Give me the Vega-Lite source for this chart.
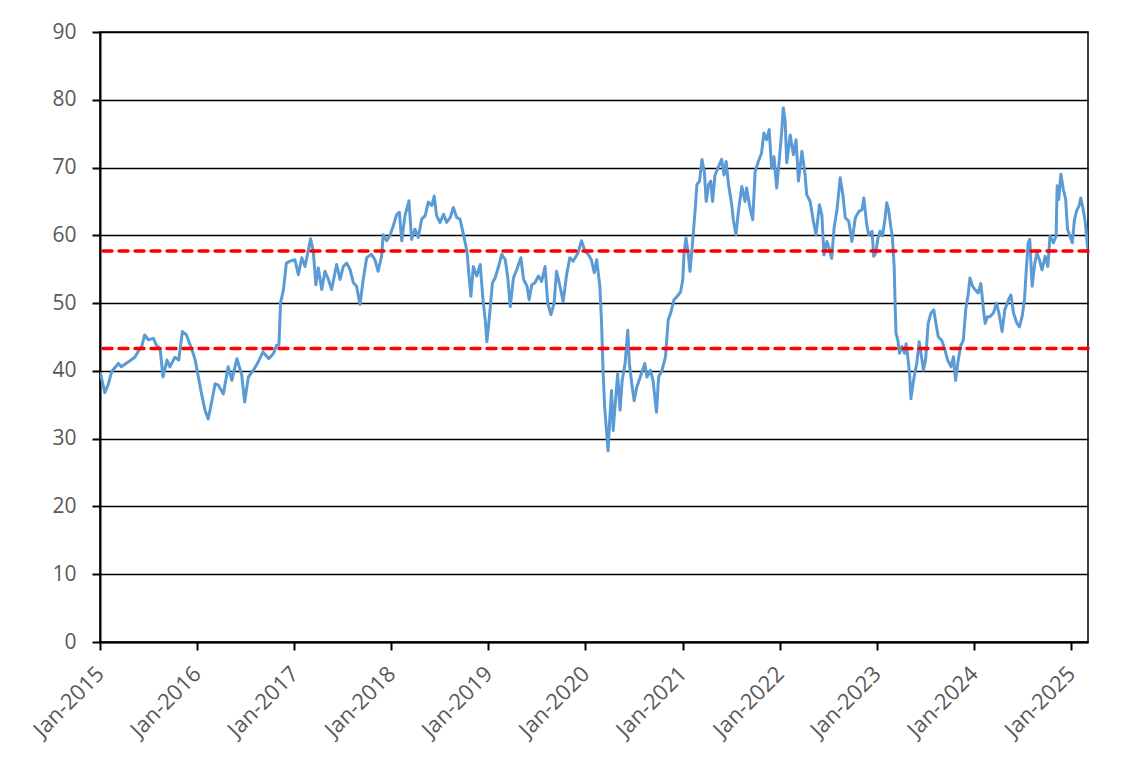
{
  "$schema": "https://vega.github.io/schema/vega-lite/v6.json",
  "width": 988,
  "height": 610,
  "autosize": {"type": "none"},
  "padding": {"left": 100, "top": 32, "right": 56, "bottom": 127},
  "background": "white",
  "config": {
    "view": {"stroke": "black", "strokeWidth": 1.5},
    "font": "Open Sans"
  },
  "datasets": {
    "series": [
      {"date": "2015-01-02", "v": 39.8},
      {"date": "2015-01-19", "v": 36.8},
      {"date": "2015-02-01", "v": 38.0},
      {"date": "2015-02-14", "v": 39.9},
      {"date": "2015-03-11", "v": 41.1},
      {"date": "2015-03-22", "v": 40.6},
      {"date": "2015-04-17", "v": 41.3},
      {"date": "2015-05-12", "v": 42.0},
      {"date": "2015-05-27", "v": 43.0},
      {"date": "2015-06-07", "v": 43.6},
      {"date": "2015-06-18", "v": 45.3},
      {"date": "2015-07-02", "v": 44.6},
      {"date": "2015-07-21", "v": 44.8},
      {"date": "2015-08-01", "v": 43.8},
      {"date": "2015-08-15", "v": 43.3},
      {"date": "2015-08-26", "v": 39.1},
      {"date": "2015-09-10", "v": 41.6},
      {"date": "2015-09-21", "v": 40.6},
      {"date": "2015-10-09", "v": 42.0},
      {"date": "2015-10-24", "v": 41.6},
      {"date": "2015-11-07", "v": 45.8},
      {"date": "2015-11-22", "v": 45.3},
      {"date": "2015-12-14", "v": 43.0},
      {"date": "2015-12-25", "v": 41.6},
      {"date": "2016-01-06", "v": 39.1},
      {"date": "2016-01-18", "v": 36.6},
      {"date": "2016-01-31", "v": 34.2},
      {"date": "2016-02-12", "v": 32.9},
      {"date": "2016-02-25", "v": 35.4},
      {"date": "2016-03-09", "v": 38.1},
      {"date": "2016-03-21", "v": 37.9},
      {"date": "2016-04-09", "v": 36.6},
      {"date": "2016-04-27", "v": 40.6},
      {"date": "2016-05-11", "v": 38.6},
      {"date": "2016-05-30", "v": 41.8},
      {"date": "2016-06-17", "v": 39.4},
      {"date": "2016-06-28", "v": 35.4},
      {"date": "2016-07-12", "v": 39.1},
      {"date": "2016-07-31", "v": 40.1},
      {"date": "2016-08-18", "v": 41.3},
      {"date": "2016-09-05", "v": 42.8},
      {"date": "2016-09-27", "v": 41.8},
      {"date": "2016-10-15", "v": 42.6},
      {"date": "2016-10-26", "v": 43.8},
      {"date": "2016-11-04", "v": 43.8},
      {"date": "2016-11-10", "v": 50.0},
      {"date": "2016-11-21", "v": 52.0},
      {"date": "2016-12-02", "v": 55.9},
      {"date": "2016-12-16", "v": 56.2},
      {"date": "2017-01-03", "v": 56.4},
      {"date": "2017-01-16", "v": 54.2},
      {"date": "2017-01-29", "v": 56.7},
      {"date": "2017-02-10", "v": 55.4},
      {"date": "2017-02-22", "v": 57.7},
      {"date": "2017-03-03", "v": 59.5},
      {"date": "2017-03-13", "v": 57.7},
      {"date": "2017-03-23", "v": 52.7},
      {"date": "2017-04-01", "v": 55.2},
      {"date": "2017-04-14", "v": 52.0},
      {"date": "2017-04-26", "v": 54.7},
      {"date": "2017-05-09", "v": 53.5},
      {"date": "2017-05-21", "v": 52.0},
      {"date": "2017-06-09", "v": 55.7},
      {"date": "2017-06-22", "v": 53.5},
      {"date": "2017-07-04", "v": 55.4},
      {"date": "2017-07-17", "v": 55.9},
      {"date": "2017-07-29", "v": 55.0},
      {"date": "2017-08-11", "v": 53.0},
      {"date": "2017-08-23", "v": 52.5},
      {"date": "2017-09-05", "v": 49.8},
      {"date": "2017-09-17", "v": 53.5},
      {"date": "2017-09-30", "v": 56.7},
      {"date": "2017-10-18", "v": 57.2},
      {"date": "2017-10-31", "v": 56.4},
      {"date": "2017-11-12", "v": 54.7},
      {"date": "2017-11-25", "v": 56.9},
      {"date": "2017-12-01", "v": 60.1},
      {"date": "2017-12-14", "v": 59.2},
      {"date": "2017-12-26", "v": 59.9},
      {"date": "2018-01-08", "v": 61.4},
      {"date": "2018-01-21", "v": 63.1},
      {"date": "2018-01-31", "v": 63.4},
      {"date": "2018-02-09", "v": 59.2},
      {"date": "2018-02-21", "v": 62.9},
      {"date": "2018-03-08", "v": 65.1},
      {"date": "2018-03-18", "v": 59.4},
      {"date": "2018-03-31", "v": 60.9},
      {"date": "2018-04-12", "v": 59.7},
      {"date": "2018-04-25", "v": 62.4},
      {"date": "2018-05-08", "v": 62.9},
      {"date": "2018-05-20", "v": 64.9},
      {"date": "2018-06-02", "v": 64.4},
      {"date": "2018-06-11", "v": 65.8},
      {"date": "2018-06-20", "v": 62.9},
      {"date": "2018-07-03", "v": 61.9},
      {"date": "2018-07-16", "v": 63.1},
      {"date": "2018-07-28", "v": 61.9},
      {"date": "2018-08-10", "v": 62.6},
      {"date": "2018-08-22", "v": 64.1},
      {"date": "2018-09-04", "v": 62.6},
      {"date": "2018-09-16", "v": 62.4},
      {"date": "2018-09-29", "v": 60.1},
      {"date": "2018-10-12", "v": 57.7},
      {"date": "2018-10-20", "v": 54.0},
      {"date": "2018-10-27", "v": 51.0},
      {"date": "2018-11-05", "v": 55.4},
      {"date": "2018-11-18", "v": 54.0},
      {"date": "2018-12-01", "v": 55.7},
      {"date": "2018-12-11", "v": 50.7},
      {"date": "2018-12-20", "v": 47.5},
      {"date": "2018-12-26", "v": 44.3},
      {"date": "2019-01-01", "v": 46.5},
      {"date": "2019-01-07", "v": 49.0},
      {"date": "2019-01-16", "v": 53.0},
      {"date": "2019-01-26", "v": 53.7},
      {"date": "2019-02-08", "v": 55.4},
      {"date": "2019-02-20", "v": 57.2},
      {"date": "2019-03-05", "v": 56.4},
      {"date": "2019-03-15", "v": 53.7},
      {"date": "2019-03-24", "v": 49.5},
      {"date": "2019-04-05", "v": 53.7},
      {"date": "2019-04-18", "v": 55.0},
      {"date": "2019-05-03", "v": 56.7},
      {"date": "2019-05-13", "v": 53.5},
      {"date": "2019-05-26", "v": 52.5},
      {"date": "2019-06-03", "v": 50.5},
      {"date": "2019-06-13", "v": 52.7},
      {"date": "2019-06-25", "v": 53.0},
      {"date": "2019-07-08", "v": 54.0},
      {"date": "2019-07-20", "v": 53.2},
      {"date": "2019-08-02", "v": 55.4},
      {"date": "2019-08-12", "v": 50.0},
      {"date": "2019-08-24", "v": 48.3},
      {"date": "2019-09-05", "v": 50.0},
      {"date": "2019-09-14", "v": 54.7},
      {"date": "2019-09-27", "v": 52.5},
      {"date": "2019-10-09", "v": 50.2},
      {"date": "2019-10-22", "v": 54.2},
      {"date": "2019-11-03", "v": 56.7},
      {"date": "2019-11-16", "v": 56.2},
      {"date": "2019-12-04", "v": 57.4},
      {"date": "2019-12-17", "v": 59.2},
      {"date": "2019-12-30", "v": 57.7},
      {"date": "2020-01-11", "v": 57.2},
      {"date": "2020-01-23", "v": 56.4},
      {"date": "2020-02-03", "v": 54.5},
      {"date": "2020-02-12", "v": 56.4},
      {"date": "2020-02-24", "v": 52.5},
      {"date": "2020-03-01", "v": 47.5},
      {"date": "2020-03-07", "v": 40.1},
      {"date": "2020-03-13", "v": 34.7},
      {"date": "2020-03-19", "v": 31.7},
      {"date": "2020-03-26", "v": 28.2},
      {"date": "2020-04-01", "v": 32.7},
      {"date": "2020-04-08", "v": 37.1},
      {"date": "2020-04-14", "v": 31.2},
      {"date": "2020-04-21", "v": 34.7},
      {"date": "2020-05-01", "v": 39.6},
      {"date": "2020-05-10", "v": 34.2},
      {"date": "2020-05-18", "v": 38.6},
      {"date": "2020-05-29", "v": 41.1},
      {"date": "2020-06-08", "v": 46.0},
      {"date": "2020-06-14", "v": 41.1},
      {"date": "2020-06-23", "v": 38.1},
      {"date": "2020-07-02", "v": 35.6},
      {"date": "2020-07-12", "v": 37.6},
      {"date": "2020-07-25", "v": 39.1},
      {"date": "2020-08-11", "v": 41.1},
      {"date": "2020-08-19", "v": 39.1},
      {"date": "2020-09-01", "v": 40.1},
      {"date": "2020-09-11", "v": 38.6},
      {"date": "2020-09-24", "v": 33.9},
      {"date": "2020-10-02", "v": 39.1},
      {"date": "2020-10-15", "v": 40.1},
      {"date": "2020-10-28", "v": 42.1},
      {"date": "2020-11-07", "v": 47.5},
      {"date": "2020-11-16", "v": 48.5},
      {"date": "2020-11-29", "v": 50.5},
      {"date": "2020-12-11", "v": 51.0},
      {"date": "2020-12-24", "v": 51.7},
      {"date": "2021-01-01", "v": 53.5},
      {"date": "2021-01-06", "v": 57.6},
      {"date": "2021-01-13", "v": 59.6},
      {"date": "2021-01-22", "v": 57.1},
      {"date": "2021-01-28", "v": 54.7},
      {"date": "2021-02-05", "v": 58.1},
      {"date": "2021-02-11", "v": 61.1},
      {"date": "2021-02-17", "v": 64.0},
      {"date": "2021-02-23", "v": 67.5},
      {"date": "2021-03-05", "v": 68.0},
      {"date": "2021-03-14", "v": 71.2},
      {"date": "2021-03-23", "v": 69.4},
      {"date": "2021-03-30", "v": 65.0},
      {"date": "2021-04-08", "v": 67.5},
      {"date": "2021-04-16", "v": 68.0},
      {"date": "2021-04-23", "v": 65.0},
      {"date": "2021-05-02", "v": 68.9},
      {"date": "2021-05-15", "v": 70.1},
      {"date": "2021-05-27", "v": 71.2},
      {"date": "2021-06-05", "v": 68.9},
      {"date": "2021-06-13", "v": 70.9},
      {"date": "2021-06-22", "v": 67.5},
      {"date": "2021-07-04", "v": 64.5},
      {"date": "2021-07-10", "v": 62.3},
      {"date": "2021-07-20", "v": 60.1},
      {"date": "2021-07-29", "v": 63.5},
      {"date": "2021-08-11", "v": 67.2},
      {"date": "2021-08-23", "v": 65.0},
      {"date": "2021-08-29", "v": 67.0},
      {"date": "2021-09-11", "v": 64.0},
      {"date": "2021-09-21", "v": 62.3},
      {"date": "2021-09-30", "v": 69.4},
      {"date": "2021-10-12", "v": 70.9},
      {"date": "2021-10-24", "v": 72.1},
      {"date": "2021-11-02", "v": 75.1},
      {"date": "2021-11-12", "v": 74.1},
      {"date": "2021-11-22", "v": 75.6},
      {"date": "2021-12-01", "v": 69.9},
      {"date": "2021-12-10", "v": 71.6},
      {"date": "2021-12-20", "v": 67.0},
      {"date": "2021-12-30", "v": 71.2},
      {"date": "2022-01-08", "v": 75.3},
      {"date": "2022-01-14", "v": 78.8},
      {"date": "2022-01-21", "v": 76.8},
      {"date": "2022-01-27", "v": 70.7},
      {"date": "2022-02-09", "v": 74.8},
      {"date": "2022-02-21", "v": 71.9},
      {"date": "2022-03-03", "v": 74.1},
      {"date": "2022-03-12", "v": 68.0},
      {"date": "2022-03-25", "v": 72.4},
      {"date": "2022-04-06", "v": 68.9},
      {"date": "2022-04-12", "v": 66.0},
      {"date": "2022-04-25", "v": 65.0},
      {"date": "2022-05-07", "v": 62.1},
      {"date": "2022-05-17", "v": 60.1},
      {"date": "2022-05-30", "v": 64.5},
      {"date": "2022-06-08", "v": 63.0},
      {"date": "2022-06-16", "v": 57.1},
      {"date": "2022-06-27", "v": 59.1},
      {"date": "2022-07-05", "v": 58.1},
      {"date": "2022-07-15", "v": 56.6},
      {"date": "2022-07-24", "v": 61.1},
      {"date": "2022-08-04", "v": 63.8},
      {"date": "2022-08-16", "v": 68.5},
      {"date": "2022-08-26", "v": 66.0},
      {"date": "2022-09-04", "v": 62.6},
      {"date": "2022-09-17", "v": 62.1},
      {"date": "2022-09-29", "v": 59.1},
      {"date": "2022-10-12", "v": 62.6},
      {"date": "2022-10-25", "v": 63.5},
      {"date": "2022-11-06", "v": 63.8},
      {"date": "2022-11-13", "v": 65.5},
      {"date": "2022-11-23", "v": 61.8},
      {"date": "2022-12-01", "v": 60.1},
      {"date": "2022-12-14", "v": 60.6},
      {"date": "2022-12-20", "v": 56.9},
      {"date": "2022-12-28", "v": 57.4},
      {"date": "2023-01-04", "v": 59.4},
      {"date": "2023-01-13", "v": 60.6},
      {"date": "2023-01-22", "v": 59.9},
      {"date": "2023-02-01", "v": 62.6},
      {"date": "2023-02-07", "v": 64.8},
      {"date": "2023-02-14", "v": 63.8},
      {"date": "2023-02-22", "v": 61.3},
      {"date": "2023-02-28", "v": 59.9},
      {"date": "2023-03-07", "v": 55.4},
      {"date": "2023-03-11", "v": 49.0},
      {"date": "2023-03-14", "v": 45.5},
      {"date": "2023-03-21", "v": 44.5},
      {"date": "2023-03-27", "v": 42.6},
      {"date": "2023-04-05", "v": 43.6},
      {"date": "2023-04-15", "v": 42.6},
      {"date": "2023-04-21", "v": 44.0},
      {"date": "2023-04-27", "v": 42.1},
      {"date": "2023-05-04", "v": 39.6},
      {"date": "2023-05-09", "v": 35.9},
      {"date": "2023-05-15", "v": 37.6},
      {"date": "2023-05-23", "v": 39.6},
      {"date": "2023-05-31", "v": 41.1},
      {"date": "2023-06-09", "v": 44.3},
      {"date": "2023-06-16", "v": 42.6},
      {"date": "2023-06-25", "v": 40.1},
      {"date": "2023-07-03", "v": 41.6},
      {"date": "2023-07-13", "v": 47.0},
      {"date": "2023-07-23", "v": 48.5},
      {"date": "2023-08-03", "v": 49.0},
      {"date": "2023-08-11", "v": 47.0},
      {"date": "2023-08-20", "v": 45.0},
      {"date": "2023-09-02", "v": 44.5},
      {"date": "2023-09-14", "v": 43.1},
      {"date": "2023-09-24", "v": 41.6},
      {"date": "2023-10-07", "v": 40.6},
      {"date": "2023-10-16", "v": 42.1},
      {"date": "2023-10-24", "v": 38.6},
      {"date": "2023-11-03", "v": 41.6},
      {"date": "2023-11-13", "v": 43.8},
      {"date": "2023-11-22", "v": 44.5},
      {"date": "2023-12-01", "v": 49.0},
      {"date": "2023-12-11", "v": 51.5},
      {"date": "2023-12-17", "v": 53.7},
      {"date": "2023-12-27", "v": 52.5},
      {"date": "2024-01-05", "v": 52.0},
      {"date": "2024-01-17", "v": 51.5},
      {"date": "2024-01-27", "v": 52.9},
      {"date": "2024-02-06", "v": 49.0},
      {"date": "2024-02-12", "v": 47.0},
      {"date": "2024-02-21", "v": 48.0},
      {"date": "2024-03-01", "v": 48.0},
      {"date": "2024-03-14", "v": 48.5},
      {"date": "2024-03-26", "v": 50.0},
      {"date": "2024-04-04", "v": 48.5},
      {"date": "2024-04-16", "v": 45.8},
      {"date": "2024-04-26", "v": 49.0},
      {"date": "2024-05-10", "v": 50.5},
      {"date": "2024-05-19", "v": 51.2},
      {"date": "2024-05-29", "v": 48.5},
      {"date": "2024-06-11", "v": 47.0},
      {"date": "2024-06-20", "v": 46.5},
      {"date": "2024-06-30", "v": 48.0},
      {"date": "2024-07-09", "v": 50.5},
      {"date": "2024-07-15", "v": 54.4},
      {"date": "2024-07-23", "v": 58.9},
      {"date": "2024-07-29", "v": 59.4},
      {"date": "2024-08-07", "v": 52.5},
      {"date": "2024-08-17", "v": 55.9},
      {"date": "2024-08-25", "v": 57.4},
      {"date": "2024-09-03", "v": 56.4},
      {"date": "2024-09-13", "v": 54.9},
      {"date": "2024-09-25", "v": 56.9},
      {"date": "2024-10-05", "v": 55.4},
      {"date": "2024-10-13", "v": 59.9},
      {"date": "2024-10-26", "v": 58.9},
      {"date": "2024-11-05", "v": 59.9},
      {"date": "2024-11-09", "v": 67.3},
      {"date": "2024-11-15", "v": 65.3},
      {"date": "2024-11-23", "v": 69.0},
      {"date": "2024-12-02", "v": 66.8},
      {"date": "2024-12-11", "v": 65.3},
      {"date": "2024-12-18", "v": 60.9},
      {"date": "2024-12-27", "v": 59.9},
      {"date": "2025-01-05", "v": 58.9},
      {"date": "2025-01-13", "v": 62.3},
      {"date": "2025-01-21", "v": 63.6},
      {"date": "2025-01-30", "v": 64.3},
      {"date": "2025-02-06", "v": 65.5},
      {"date": "2025-02-15", "v": 63.8},
      {"date": "2025-02-23", "v": 61.8},
      {"date": "2025-03-04", "v": 57.9}
    ],
    "levels": [
      {"level": 57.7},
      {"level": 43.3}
    ]
  },
  "layer": [
    {
      "data": {"name": "series"},
      "mark": {"type": "line", "color": "#5B9BD5", "strokeWidth": 3, "strokeJoin": "round", "clip": true},
      "encoding": {
        "x": {
          "field": "date",
          "type": "temporal",
          "scale": {"type": "utc", "domain": [{"year": 2015, "month": 1, "date": 1, "utc": true}, {"year": 2025, "month": 3, "date": 5, "utc": true}]},
          "axis": {
            "title": null,
            "values": [
              {"year": 2015, "month": 1, "date": 1, "utc": true},
              {"year": 2016, "month": 1, "date": 1, "utc": true},
              {"year": 2017, "month": 1, "date": 1, "utc": true},
              {"year": 2018, "month": 1, "date": 1, "utc": true},
              {"year": 2019, "month": 1, "date": 1, "utc": true},
              {"year": 2020, "month": 1, "date": 1, "utc": true},
              {"year": 2021, "month": 1, "date": 1, "utc": true},
              {"year": 2022, "month": 1, "date": 1, "utc": true},
              {"year": 2023, "month": 1, "date": 1, "utc": true},
              {"year": 2024, "month": 1, "date": 1, "utc": true},
              {"year": 2025, "month": 1, "date": 1, "utc": true}
            ],
            "labelExpr": "utcFormat(datum.value, '%b-%Y')",
            "grid": false,
            "domainColor": "black",
            "domainWidth": 2,
            "tickColor": "black",
            "tickWidth": 2,
            "tickSize": 8,
            "labelAngle": -45,
            "labelAlign": "right",
            "labelBaseline": "middle",
            "labelPadding": 20,
            "labelFont": "Open Sans",
            "labelFontSize": 22,
            "labelColor": "#595959",
            "labelOverlap": false,
            "labelFlush": false
          }
        },
        "y": {
          "field": "v",
          "type": "quantitative",
          "scale": {"domain": [0, 90], "nice": false, "zero": true},
          "axis": {
            "title": null,
            "values": [0, 10, 20, 30, 40, 50, 60, 70, 80, 90],
            "grid": true,
            "gridColor": "black",
            "gridWidth": 1.5,
            "gridOpacity": 1,
            "domainColor": "black",
            "domainWidth": 2,
            "tickColor": "black",
            "tickWidth": 2,
            "tickSize": 8,
            "labelPadding": 16,
            "labelFont": "Open Sans",
            "labelFontSize": 21,
            "labelColor": "#595959"
          }
        }
      }
    },
    {
      "data": {"name": "levels"},
      "mark": {"type": "rule", "color": "#FF0000", "strokeWidth": 3.5, "strokeDash": [9, 7], "strokeCap": "round"},
      "encoding": {
        "y": {"field": "level", "type": "quantitative"}
      }
    }
  ]
}
